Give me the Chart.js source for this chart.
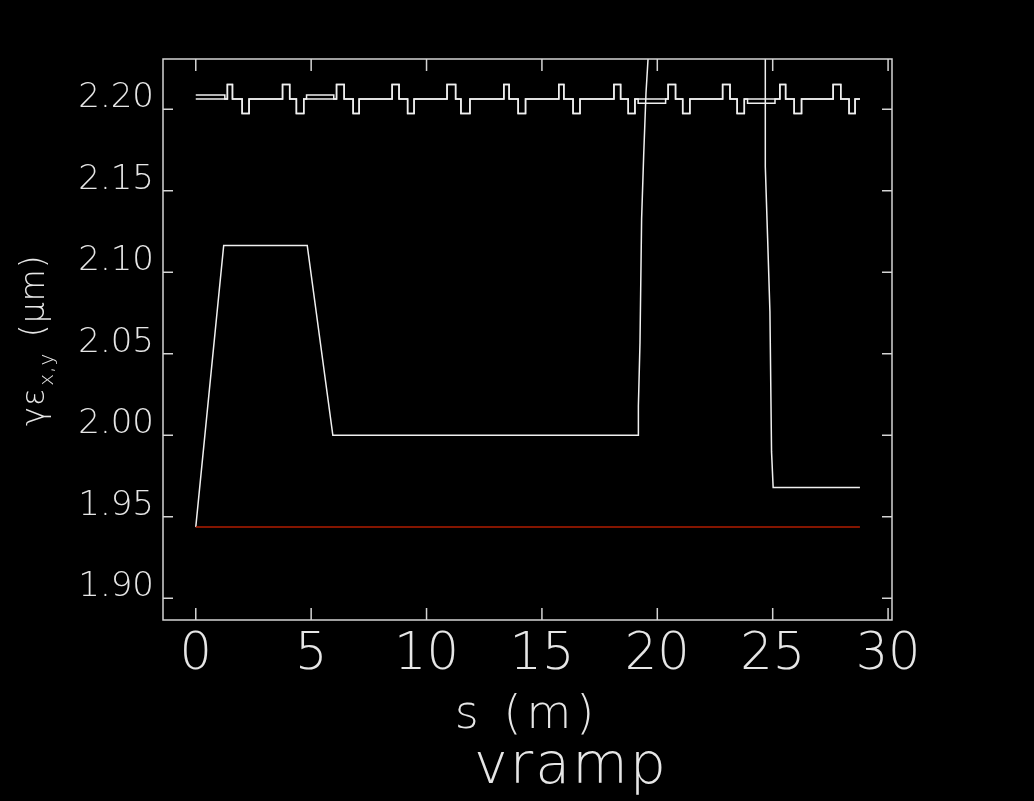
<!DOCTYPE html>
<html lang="en">
<head>
<meta charset="UTF-8">
<title>vramp</title>
<script src="https://cdn.jsdelivr.net/npm/chart.js@4.4.0/dist/chart.umd.js"></script>
<style>
  html, body { margin: 0; padding: 0; background: #000; }
  canvas { display: block; }
</style>
</head>
<body>
<canvas id="plot" width="1034" height="801"></canvas>
<script>
// tick values / labels
const xTicks = [0, 5, 10, 15, 20, 25, 30];
const yTicks = [1.90, 1.95, 2.00, 2.05, 2.10, 2.15, 2.20];
const yTickLabels = ['1.90', '1.95', '2.00', '2.05', '2.10', '2.15', '2.20'];

// main emittance curve (s in m, value in um)
const mainS = [0, 1.21, 4.83, 5.94, 19.18, 19.18, 19.25, 19.32, 19.41, 19.51, 19.62, 19.75,
               24.68, 24.68, 24.78, 24.88, 24.95, 25.02, 28.78];
const mainV = [1.9437, 2.1165, 2.1165, 2.000, 2.000, 2.018, 2.057, 2.133, 2.172, 2.210, 2.236, 2.40,
               2.40, 2.165, 2.121, 2.076, 1.990, 1.968, 1.968];

// reference line (red)
const refS = [0, 28.78];
const refV = [1.9437, 1.9437];

// upper curves: step edges and level after each edge
const topS = [0, 1.26, 1.37, 1.59, 2.01, 2.31, 3.76, 4.07, 4.36, 4.68, 4.80, 5.98, 6.10, 6.43,
              6.82, 7.08, 8.51, 8.81, 9.18, 9.46, 10.89, 11.26, 11.49, 11.88, 13.35, 13.58,
              13.97, 14.29, 15.73, 15.95, 16.35, 16.65, 18.12, 18.41, 18.74, 19.03, 19.17,
              20.36, 20.47, 20.79, 21.10, 21.41, 22.83, 23.15, 23.46, 23.77, 23.91, 25.10,
              25.31, 25.56, 25.93, 26.25, 27.62, 27.95, 28.31, 28.57, 28.78];
const topX = [2.2088, 2.2063, 2.2153, 2.2063, 2.1975, 2.2063, 2.2153, 2.2063, 2.1975, 2.2063, 2.2088, 2.2063, 2.2153, 2.2063,
              2.1975, 2.2063, 2.2153, 2.2063, 2.1975, 2.2063, 2.2153, 2.2063, 2.1975, 2.2063, 2.2153, 2.2063,
              2.1975, 2.2063, 2.2153, 2.2063, 2.1975, 2.2063, 2.2153, 2.2063, 2.1975, 2.2063, 2.2063,
              2.2063, 2.2153, 2.2063, 2.1975, 2.2063, 2.2153, 2.2063, 2.1975, 2.2063, 2.2063, 2.2063,
              2.2153, 2.2063, 2.1975, 2.2063, 2.2153, 2.2063, 2.1975, 2.2063, 2.2063];
const topY = [2.2063, 2.2063, 2.2153, 2.2063, 2.1975, 2.2063, 2.2153, 2.2063, 2.1975, 2.2063, 2.2063, 2.2063, 2.2153, 2.2063,
              2.1975, 2.2063, 2.2153, 2.2063, 2.1975, 2.2063, 2.2153, 2.2063, 2.1975, 2.2063, 2.2153, 2.2063,
              2.1975, 2.2063, 2.2153, 2.2063, 2.1975, 2.2063, 2.2153, 2.2063, 2.1975, 2.2063, 2.2037,
              2.2063, 2.2153, 2.2063, 2.1975, 2.2063, 2.2153, 2.2063, 2.1975, 2.2063, 2.2037, 2.2063,
              2.2153, 2.2063, 2.1975, 2.2063, 2.2153, 2.2063, 2.1975, 2.2063, 2.2063];

const pts = (xs, ys) => xs.map((x, i) => ({ x: x, y: ys[i] }));

const FRAME = '#d4d4d4';
const FONT = '"DejaVu Sans", sans-serif';

// frame, inward ticks and axis titles
const framePlugin = {
  id: 'frame',
  afterDraw(chart) {
    const { ctx, chartArea: a, scales } = chart;
    ctx.save();
    ctx.strokeStyle = FRAME;
    ctx.lineWidth = 1.5;
    ctx.strokeRect(a.left, a.top, a.right - a.left, a.bottom - a.top);
    ctx.beginPath();
    xTicks.forEach(v => {
      const px = scales.x.getPixelForValue(v);
      ctx.moveTo(px, a.bottom); ctx.lineTo(px, a.bottom - 12);
      ctx.moveTo(px, a.top); ctx.lineTo(px, a.top + 12);
    });
    yTicks.forEach(v => {
      const py = scales.y.getPixelForValue(v);
      ctx.moveTo(a.left, py); ctx.lineTo(a.left + 10, py);
      ctx.moveTo(a.right, py); ctx.lineTo(a.right - 10, py);
    });
    ctx.stroke();

    ctx.fillStyle = '#e6e6e6';
    ctx.textBaseline = 'alphabetic';
    ctx.textAlign = 'center';
    ctx.font = '200 46px ' + FONT;
    ctx.letterSpacing = '5px';
    ctx.fillText('s (m)', 527, 728);
    ctx.letterSpacing = '2px';
    ctx.font = '200 57px ' + FONT;
    ctx.fillText('vramp', 571, 783);

    // y title, rotated
    ctx.letterSpacing = '1px';
    ctx.translate(44, 426);
    ctx.rotate(-Math.PI / 2);
    ctx.textAlign = 'left';
    ctx.font = '200 32px ' + FONT;
    ctx.fillText('γε', 0, 0);
    let w = ctx.measureText('γε').width;
    ctx.font = '200 20px ' + FONT;
    ctx.fillText('x,y', w + 2, 9);
    w += ctx.measureText('x,y').width + 2;
    ctx.font = '200 33px ' + FONT;
    ctx.fillText(' (μm)', w + 4, 0);
    ctx.restore();
  }
};

new Chart(document.getElementById('plot'), {
  type: 'line',
  data: {
    datasets: [
      { data: pts(refS, refV), borderColor: '#b01c00', borderWidth: 1.5 },
      { data: pts(mainS, mainV), borderColor: '#f0f0f0', borderWidth: 1.5 },
      { data: pts(topS, topX), borderColor: '#f0f0f0', borderWidth: 1.5, stepped: true },
      { data: pts(topS, topY), borderColor: '#f0f0f0', borderWidth: 1.5, stepped: true }
    ]
  },
  options: {
    responsive: false,
    animation: false,
    layout: { padding: { left: 0, top: 59, right: 142, bottom: 0 } },
    elements: { point: { radius: 0 }, line: { tension: 0 } },
    datasets: { line: { clip: 0 } },
    plugins: { legend: { display: false }, tooltip: { enabled: false } },
    scales: {
      x: {
        type: 'linear',
        min: -1.42,
        max: 30.17,
        afterFit: s => { s.height = 181; },
        afterBuildTicks: s => { s.ticks = xTicks.map(v => ({ value: v })); },
        grid: { display: false, drawTicks: false },
        border: { display: false },
        ticks: {
          color: '#e6e6e6',
          padding: 5,
          maxRotation: 0,
          autoSkip: false,
          font: { family: FONT, size: 51, weight: 200 },
          callback: v => String(v)
        }
      },
      y: {
        type: 'linear',
        min: 1.8867,
        max: 2.2309,
        afterFit: s => { s.width = 163; },
        afterBuildTicks: s => { s.ticks = yTicks.map(v => ({ value: v })); },
        grid: { display: false, drawTicks: false },
        border: { display: false },
        ticks: {
          color: '#e6e6e6',
          padding: 9,
          labelOffset: -11,
          autoSkip: false,
          font: { family: FONT, size: 34, weight: 200 },
          callback: v => yTickLabels[yTicks.indexOf(v)] ?? ''
        }
      }
    }
  },
  plugins: [framePlugin]
});
</script>
</body>
</html>
